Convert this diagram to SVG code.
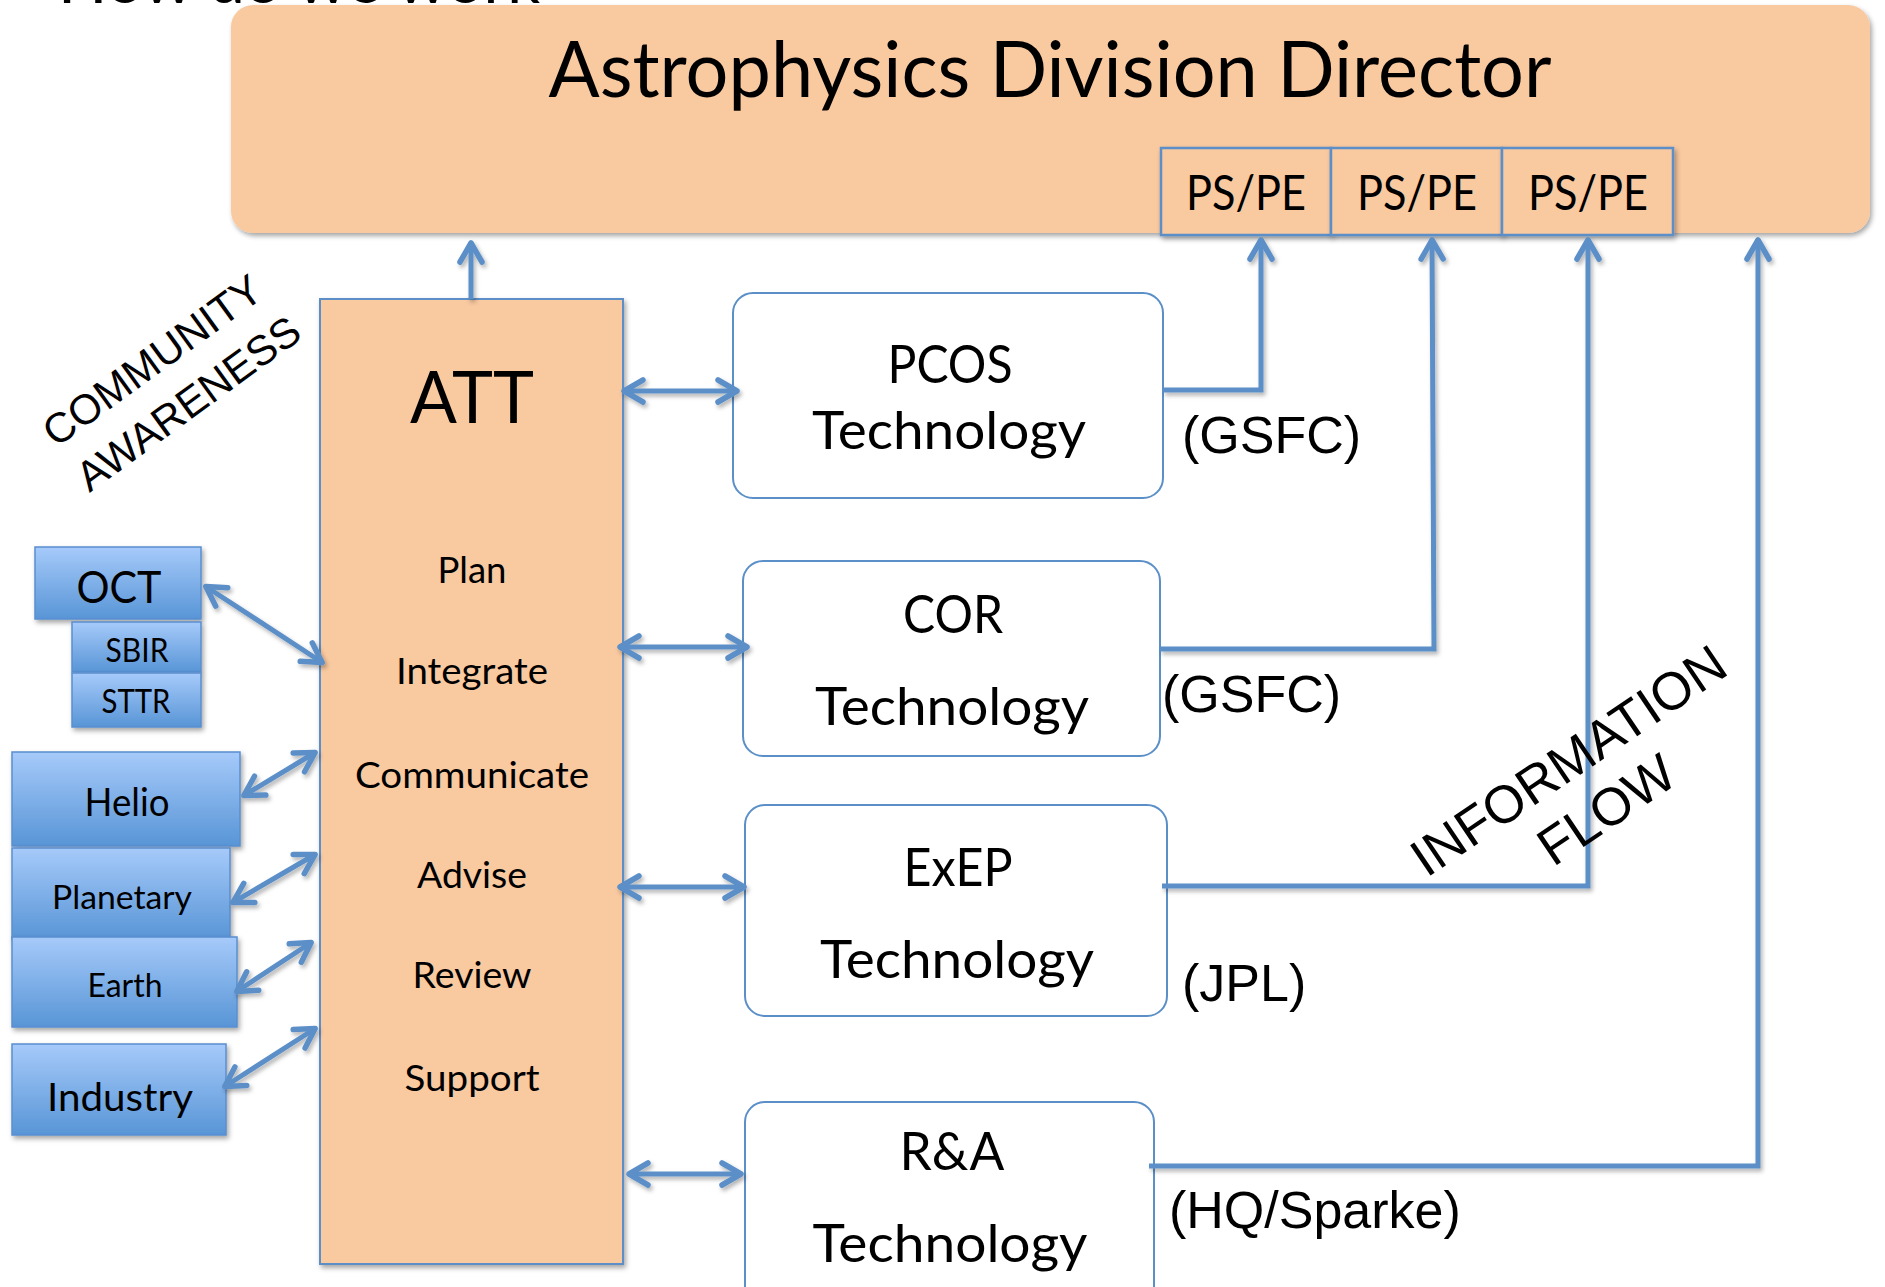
<svg xmlns="http://www.w3.org/2000/svg" width="1885" height="1287" viewBox="0 0 1885 1287">
<style>
.cal{font-family:Lato,"Open Sans","Noto Sans",sans-serif;fill:#000;text-anchor:middle}
.ari{font-family:"Liberation Sans",Arial,sans-serif;fill:#000}
.peach{fill:#f9c9a0}
.conn{fill:none;stroke:#5b8fc8;stroke-width:5;stroke-linejoin:miter}
.tech{fill:#fff;stroke:#5b8fc8;stroke-width:2}
.blue{fill:url(#bg);stroke:#5a8ed0;stroke-width:1.5}
</style>
<defs>
<linearGradient id="bg" x1="0" y1="0" x2="0" y2="1">
<stop offset="0" stop-color="#a6cafa"/>
<stop offset="1" stop-color="#5895d6"/>
</linearGradient>
<filter id="sh" x="-10%" y="-10%" width="130%" height="130%">
<feDropShadow dx="2" dy="3" stdDeviation="2.5" flood-color="#000" flood-opacity="0.35"/>
</filter>
<filter id="lsh" x="-20%" y="-20%" width="140%" height="140%">
<feDropShadow dx="2" dy="3" stdDeviation="2" flood-color="#000" flood-opacity="0.3"/>
</filter>
<marker id="ah" markerUnits="userSpaceOnUse" orient="auto-start-reverse" markerWidth="50" markerHeight="50" viewBox="-30 -25 50 50" refX="0" refY="0" overflow="visible">
<path d="M-20,-11 L-1,0 L-20,11" fill="none" stroke="#5b8fc8" stroke-width="5.5" stroke-linecap="round" stroke-linejoin="round"/>
</marker>
</defs>
<rect width="1885" height="1287" fill="#fff"/>

<text class="cal" x="299" y="3" font-size="63" textLength="482" lengthAdjust="spacingAndGlyphs">How do we work</text>

<g id="director">
<rect class="peach" x="231" y="5" width="1639" height="228" rx="22" filter="url(#sh)"/>
<text class="cal" x="1050" y="97" font-size="77" textLength="1003" lengthAdjust="spacingAndGlyphs">Astrophysics Division Director</text>
</g>
<g id="pspe1">
<rect class="peach" x="1161" y="148" width="170" height="87" stroke="#5b8fc8" stroke-width="2.5" filter="url(#sh)"/>
<text class="cal" x="1246" y="210" font-size="48" textLength="120" lengthAdjust="spacingAndGlyphs">PS/PE</text>
</g>
<g id="pspe2">
<rect class="peach" x="1331" y="148" width="171" height="87" stroke="#5b8fc8" stroke-width="2.5" filter="url(#sh)"/>
<text class="cal" x="1417" y="210" font-size="48" textLength="120" lengthAdjust="spacingAndGlyphs">PS/PE</text>
</g>
<g id="pspe3">
<rect class="peach" x="1502" y="148" width="171" height="87" stroke="#5b8fc8" stroke-width="2.5" filter="url(#sh)"/>
<text class="cal" x="1588" y="210" font-size="48" textLength="120" lengthAdjust="spacingAndGlyphs">PS/PE</text>
</g>

<g id="att">
<rect class="peach" x="320" y="299" width="303" height="965" stroke="#5b8fc8" stroke-width="2" filter="url(#sh)"/>
<text class="cal" x="472" y="423" font-size="72" textLength="124" lengthAdjust="spacingAndGlyphs">ATT</text>
<text class="cal" x="472" y="583" font-size="37" textLength="69" lengthAdjust="spacingAndGlyphs">Plan</text>
<text class="cal" x="472" y="684" font-size="37" textLength="152" lengthAdjust="spacingAndGlyphs">Integrate</text>
<text class="cal" x="472" y="788" font-size="37" textLength="234" lengthAdjust="spacingAndGlyphs">Communicate</text>
<text class="cal" x="472" y="888" font-size="37" textLength="110" lengthAdjust="spacingAndGlyphs">Advise</text>
<text class="cal" x="472" y="988" font-size="37" textLength="119" lengthAdjust="spacingAndGlyphs">Review</text>
<text class="cal" x="472" y="1091" font-size="37" textLength="135" lengthAdjust="spacingAndGlyphs">Support</text>
</g>

<g id="oct">
<rect class="blue" x="35" y="547" width="166" height="72" filter="url(#sh)"/>
<text class="cal" x="119" y="603" font-size="45" textLength="85" lengthAdjust="spacingAndGlyphs">OCT</text>
</g>
<g id="sbir">
<rect class="blue" x="72" y="622" width="129" height="50" filter="url(#sh)"/>
<text class="cal" x="137" y="662" font-size="32" textLength="63" lengthAdjust="spacingAndGlyphs">SBIR</text>
</g>
<g id="sttr">
<rect class="blue" x="72" y="673" width="129" height="54" filter="url(#sh)"/>
<text class="cal" x="136" y="713" font-size="32" textLength="69" lengthAdjust="spacingAndGlyphs">STTR</text>
</g>
<g id="helio">
<rect class="blue" x="12" y="752" width="228" height="94" filter="url(#sh)"/>
<text class="cal" x="127" y="816" font-size="38" textLength="85" lengthAdjust="spacingAndGlyphs">Helio</text>
</g>
<g id="planetary">
<rect class="blue" x="12" y="848" width="218" height="91" filter="url(#sh)"/>
<text class="cal" x="122" y="909" font-size="32" textLength="140" lengthAdjust="spacingAndGlyphs">Planetary</text>
</g>
<g id="earth">
<rect class="blue" x="12" y="937" width="225" height="90" filter="url(#sh)"/>
<text class="cal" x="125" y="997" font-size="33" textLength="75" lengthAdjust="spacingAndGlyphs">Earth</text>
</g>
<g id="industry">
<rect class="blue" x="12" y="1044" width="214" height="91" filter="url(#sh)"/>
<text class="cal" x="120" y="1111" font-size="38" textLength="146" lengthAdjust="spacingAndGlyphs">Industry</text>
</g>

<g id="pcos">
<rect class="tech" x="733" y="293" width="430" height="205" rx="20"/>
<text class="cal" x="950" y="383" font-size="52" textLength="125" lengthAdjust="spacingAndGlyphs">PCOS</text>
<text class="cal" x="949" y="449" font-size="52" textLength="274" lengthAdjust="spacingAndGlyphs">Technology</text>
</g>
<g id="cor">
<rect class="tech" x="743" y="561" width="417" height="195" rx="20"/>
<text class="cal" x="953" y="633" font-size="52" textLength="100" lengthAdjust="spacingAndGlyphs">COR</text>
<text class="cal" x="952" y="725" font-size="52" textLength="274" lengthAdjust="spacingAndGlyphs">Technology</text>
</g>
<g id="exep">
<rect class="tech" x="745" y="805" width="422" height="211" rx="20"/>
<text class="cal" x="958" y="886" font-size="52" textLength="109" lengthAdjust="spacingAndGlyphs">ExEP</text>
<text class="cal" x="957" y="978" font-size="52" textLength="274" lengthAdjust="spacingAndGlyphs">Technology</text>
</g>
<g id="ra">
<rect class="tech" x="745" y="1102" width="409" height="220" rx="20"/>
<text class="cal" x="952" y="1170" font-size="52" textLength="105" lengthAdjust="spacingAndGlyphs">R&amp;A</text>
<text class="cal" x="950" y="1262" font-size="52" textLength="275" lengthAdjust="spacingAndGlyphs">Technology</text>
</g>

<g id="labels">
<text class="ari" x="1182" y="453" font-size="52">(GSFC)</text>
<text class="ari" x="1162" y="712" font-size="52">(GSFC)</text>
<text class="ari" x="1182" y="1001" font-size="52">(JPL)</text>
<text class="ari" x="1169" y="1228" font-size="52">(HQ/Sparke)</text>
<g transform="translate(152,360) rotate(-36)"><text class="ari" x="0" y="15" font-size="42" text-anchor="middle">COMMUNITY</text></g>
<g transform="translate(188,403) rotate(-36)"><text class="ari" x="0" y="15" font-size="42" text-anchor="middle">AWARENESS</text></g>
</g>

<g id="connectors" filter="url(#lsh)">
<line class="conn" x1="471" y1="299" x2="471" y2="242" marker-end="url(#ah)"/>
<line class="conn" x1="623" y1="391" x2="738" y2="391" marker-start="url(#ah)" marker-end="url(#ah)"/>
<line class="conn" x1="619" y1="647" x2="748" y2="647" marker-start="url(#ah)" marker-end="url(#ah)"/>
<line class="conn" x1="619" y1="887" x2="745" y2="887" marker-start="url(#ah)" marker-end="url(#ah)"/>
<line class="conn" x1="628" y1="1174" x2="742" y2="1174" marker-start="url(#ah)" marker-end="url(#ah)"/>
<line class="conn" x1="205" y1="586" x2="323" y2="663" marker-start="url(#ah)" marker-end="url(#ah)"/>
<line class="conn" x1="243" y1="796" x2="316" y2="752" marker-start="url(#ah)" marker-end="url(#ah)"/>
<line class="conn" x1="232" y1="903" x2="316" y2="854" marker-start="url(#ah)" marker-end="url(#ah)"/>
<line class="conn" x1="236" y1="992" x2="312" y2="942" marker-start="url(#ah)" marker-end="url(#ah)"/>
<line class="conn" x1="224" y1="1087" x2="316" y2="1028" marker-start="url(#ah)" marker-end="url(#ah)"/>
<polyline class="conn" points="1163,390 1261,390 1261,239" marker-end="url(#ah)"/>
<polyline class="conn" points="1160,649 1434,649 1432,239" marker-end="url(#ah)"/>
<polyline class="conn" points="1162,886 1588,886 1588,239" marker-end="url(#ah)"/>
<polyline class="conn" points="1149,1166 1758,1166 1758,239" marker-end="url(#ah)"/>
</g>

<g id="infoflow">
<g transform="translate(1568,760) rotate(-34)"><text class="ari" x="0" y="19" font-size="53" text-anchor="middle">INFORMATION</text></g>
<g transform="translate(1606,809) rotate(-34)"><text class="ari" x="0" y="19" font-size="53" text-anchor="middle">FLOW</text></g>
</g>
</svg>
